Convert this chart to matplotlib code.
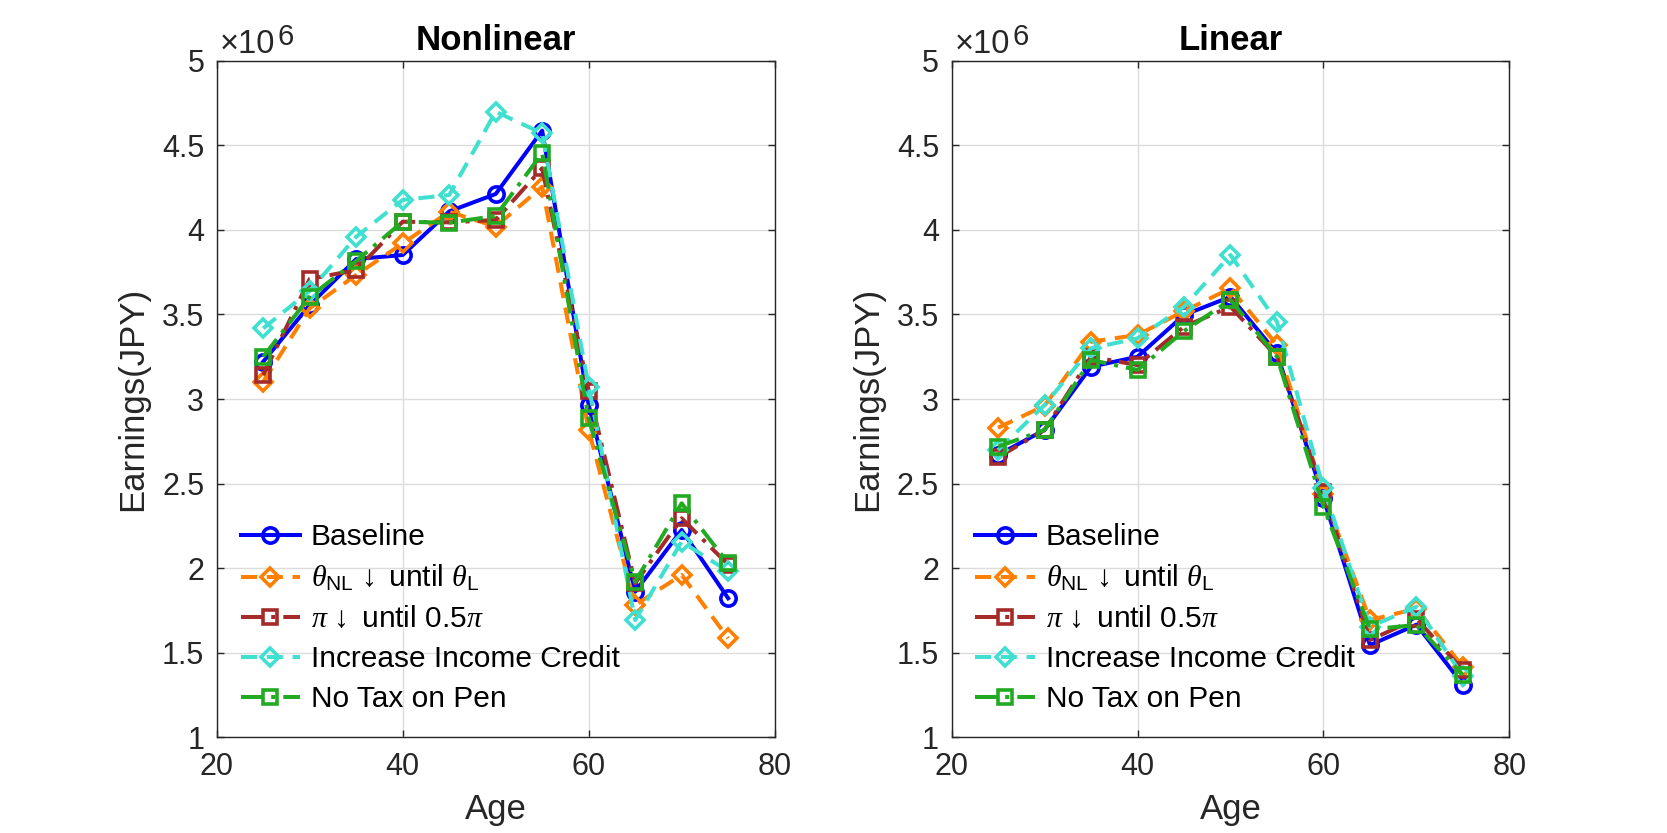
import matplotlib
matplotlib.use("Agg")
import matplotlib.pyplot as plt
from matplotlib.ticker import FuncFormatter
from matplotlib.transforms import offset_copy

plt.rcParams["font.family"] = ["Liberation Sans", "DejaVu Sans"]
plt.rcParams["mathtext.fontset"] = "custom"
plt.rcParams["mathtext.rm"] = "Liberation Sans"
plt.rcParams["mathtext.it"] = "Liberation Serif:italic"
plt.rcParams["mathtext.sf"] = "Liberation Sans"

ages = [25, 30, 35, 40, 45, 50, 55, 60, 65, 70, 75]

# earnings in JPY
nl_baseline = [3.221e6, 3.556e6, 3.828e6, 3.852e6, 4.110e6, 4.213e6, 4.588e6, 2.965e6, 1.860e6, 2.225e6, 1.821e6]
nl_theta = [3.102e6, 3.537e6, 3.734e6, 3.921e6, 4.108e6, 4.020e6, 4.256e6, 2.817e6, 1.781e6, 1.959e6, 1.584e6]
nl_pi = [3.142e6, 3.710e6, 3.763e6, 4.049e6, 4.045e6, 4.059e6, 4.365e6, 3.050e6, 1.910e6, 2.294e6, 2.020e6]
nl_credit = [3.418e6, 3.640e6, 3.960e6, 4.178e6, 4.207e6, 4.700e6, 4.572e6, 3.073e6, 1.692e6, 2.156e6, 1.980e6]
nl_notax = [3.250e6, 3.605e6, 3.817e6, 4.049e6, 4.043e6, 4.083e6, 4.454e6, 2.886e6, 1.919e6, 2.383e6, 2.028e6]

li_baseline = [2.669e6, 2.817e6, 3.191e6, 3.250e6, 3.497e6, 3.605e6, 3.270e6, 2.412e6, 1.544e6, 1.665e6, 1.310e6]
li_theta = [2.830e6, 2.960e6, 3.339e6, 3.379e6, 3.520e6, 3.655e6, 3.320e6, 2.440e6, 1.692e6, 1.760e6, 1.416e6]
li_pi = [2.655e6, 2.817e6, 3.250e6, 3.201e6, 3.428e6, 3.546e6, 3.250e6, 2.451e6, 1.574e6, 1.700e6, 1.396e6]
li_credit = [2.698e6, 2.964e6, 3.300e6, 3.359e6, 3.546e6, 3.852e6, 3.457e6, 2.471e6, 1.653e6, 1.771e6, 1.360e6]
li_notax = [2.718e6, 2.817e6, 3.231e6, 3.172e6, 3.402e6, 3.586e6, 3.250e6, 2.363e6, 1.637e6, 1.663e6, 1.367e6]

labels = [
    "Baseline",
    r"$\theta_{\mathrm{NL}}\,\downarrow$ until $\theta_{\mathrm{L}}$",
    r"$\pi\,\downarrow$ until 0.5$\pi$",
    "Increase Income Credit",
    "No Tax on Pen",
]
colors = ["#0000FF", "#FF8000", "#A52A2A", "#40E0D0", "#22AA22"]
dashes = [None, (4, 2.4), (5.5, 2, 1, 2), (4, 2.4), (5.5, 2, 1, 2)]
markers = ["o", "D", "s", "D", "s"]
msizes = [11, 9, 10, 9, 10]

panels = [
    ("Nonlinear", [nl_baseline, nl_theta, nl_pi, nl_credit, nl_notax]),
    ("Linear", [li_baseline, li_theta, li_pi, li_credit, li_notax]),
]
positions = [[0.13, 0.1152, 0.3347, 0.8116], [0.5708, 0.1152, 0.3347, 0.8116]]

fig = plt.figure(figsize=(16.67, 8.33), dpi=100)
dark = "#262626"

for (title, series), pos in zip(panels, positions):
    ax = fig.add_axes(pos)
    for vals, lab, c, ds, mk, ms in zip(series, labels, colors, dashes, markers, msizes):
        line, = ax.plot(ages, vals, color=c, marker=mk, markersize=ms,
                        markerfacecolor="none", markeredgewidth=2.6, linewidth=2.9, label=lab)
        if ds is not None:
            line.set_dashes(ds)
    ax.set_xlim(20, 80)
    ax.set_ylim(1e6, 5e6)
    ax.set_xticks([20, 40, 60, 80])
    ax.set_yticks([1e6, 1.5e6, 2e6, 2.5e6, 3e6, 3.5e6, 4e6, 4.5e6, 5e6])
    ax.yaxis.set_major_formatter(FuncFormatter(lambda v, p: f"{v / 1e6:g}"))
    ax.grid(True, color="#dcdcdc", linewidth=1.0)
    ax.set_axisbelow(True)
    ax.tick_params(direction="in", length=5, width=1, top=True, right=True,
                   labelsize=22, colors=dark, pad=9)
    ax.tick_params(axis="x", pad=11)
    for sp in ax.spines.values():
        sp.set_color(dark)
        sp.set_linewidth(1)
    ax.set_title(title, fontsize=25, fontweight="bold", pad=8)
    ax.set_xlabel("Age", fontsize=25, color=dark, labelpad=8)
    ax.set_ylabel("Earnings(JPY)", fontsize=25, color=dark, labelpad=9)

    # exponent label like MATLAB's x10^6
    tr1 = offset_copy(ax.transAxes, fig=fig, x=3, y=8, units="dots")
    ax.text(0.0, 1.0, "\u00d710", transform=tr1, fontsize=23.5, color=dark,
            ha="left", va="baseline")
    tr2 = offset_copy(ax.transAxes, fig=fig, x=61, y=16, units="dots")
    ax.text(0.0, 1.0, "6", transform=tr2, fontsize=21, color=dark,
            ha="left", va="baseline")

    ax.legend(loc="lower left", frameon=False, fontsize=21.5, handlelength=2.0,
              handletextpad=0.35, labelspacing=0.4, borderaxespad=0.45,
              borderpad=0.35)

fig.savefig("out.png", dpi=100)
